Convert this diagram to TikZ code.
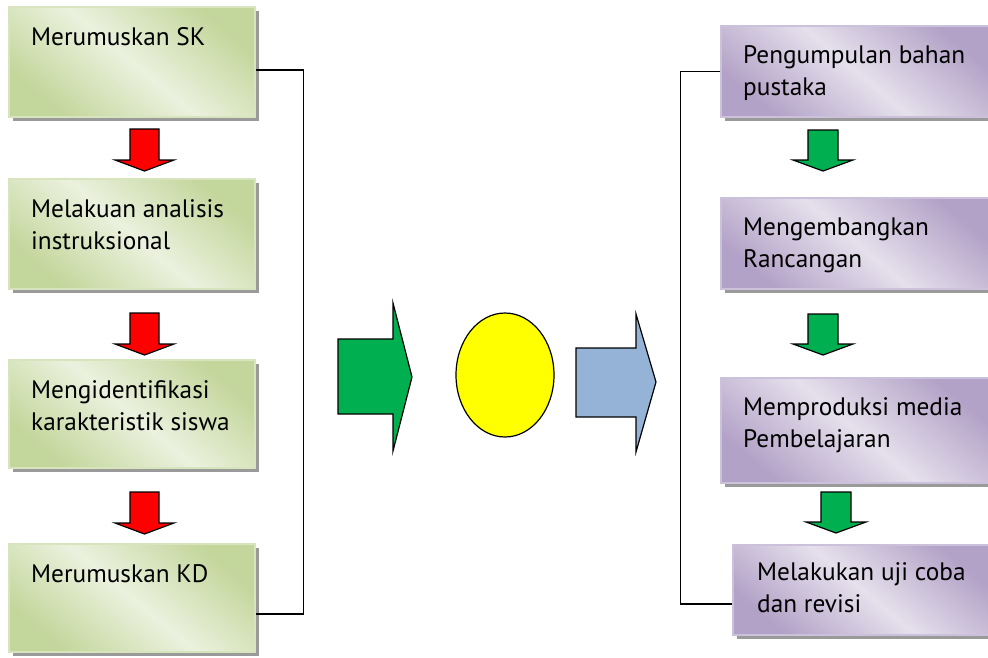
\documentclass[tikz,border=0pt]{standalone}
\usepackage{fontspec}
\setmainfont{PT Sans}
\usetikzlibrary{shapes.geometric}
\definecolor{gdark}{HTML}{C3D69B}
\definecolor{glight}{HTML}{EBF1DE}
\definecolor{gline}{HTML}{D7E4BD}
\definecolor{pdark}{HTML}{B3A2C7}
\definecolor{plight}{HTML}{E5E0EC}
\definecolor{pline}{HTML}{CCC1DA}
\definecolor{arrred}{HTML}{FF0000}
\definecolor{arrgreen}{HTML}{00B050}
\definecolor{arrblue}{HTML}{95B3D7}
\definecolor{ellyellow}{HTML}{FFFF00}
\definecolor{shadowgray}{HTML}{9A9A9A}
\tikzset{
  boxbase/.style={rectangle, inner sep=0pt, line width=1.2pt},
  greenbox/.style={boxbase, draw=gline,
    path picture={\shade[top color=gdark, bottom color=gdark, middle color=glight, shading angle=-40]
      (path picture bounding box.south west) rectangle (path picture bounding box.north east);}},
  purplebox/.style={boxbase, draw=pline,
    path picture={\shade[top color=pdark, bottom color=pdark, middle color=plight, shading angle=-40]
      (path picture bounding box.south west) rectangle (path picture bounding box.north east);}},
  boxshadow/.style={fill=shadowgray},
  txt/.style={inner sep=0pt, align=left, font=\fontsize{25.3}{32}\selectfont, text=black},
  blockarrow/.style={draw=black, line width=1.2pt, line join=miter},
  conn/.style={draw=black, line width=1.2pt}
}
\begin{document}
\begin{tikzpicture}[x=1pt,y=-1pt]
\useasboundingbox (0,0) rectangle (988,657);
% shadows
\foreach \cx/\cy/\w/\h in {132/62/246/110,132/234/246/110,132/414/246/108,132/598/246/108,856.5/71.5/271/91,856.5/243.5/271/91,856.5/430.5/271/105,862.5/590/259/90}{
  \fill[boxshadow] (\cx-\w/2+4,\cy-\h/2+4) rectangle (\cx+\w/2+4,\cy+\h/2+4);
}
% left boxes
\node[greenbox, minimum width=246pt, minimum height=110pt] (L1) at (132,62) {};
\node[greenbox, minimum width=246pt, minimum height=110pt] (L2) at (132,234) {};
\node[greenbox, minimum width=246pt, minimum height=108pt] (L3) at (132,414) {};
\node[greenbox, minimum width=246pt, minimum height=108pt] (L4) at (132,598) {};
\node[txt, anchor=base west] (tL1) at (31,45) {Merumuskan SK};
\node[txt, anchor=base west] (tL2) at (31,249) {Melakuan analisis\\instruksional};
\node[txt, anchor=base west] (tL3) at (31,430) {Mengidentifikasi\\karakteristik siswa};
\node[txt, anchor=base west] (tL4) at (31,582) {Merumuskan KD};
% right boxes
\node[purplebox, minimum width=271pt, minimum height=91pt] (R1) at (856.5,71.5) {};
\node[purplebox, minimum width=271pt, minimum height=91pt] (R2) at (856.5,243.5) {};
\node[purplebox, minimum width=271pt, minimum height=105pt] (R3) at (856.5,430.5) {};
\node[purplebox, minimum width=259pt, minimum height=90pt] (R4) at (862.5,590) {};
\node[txt, anchor=base west] (tR1) at (743,95) {Pengumpulan bahan\\pustaka};
\node[txt, anchor=base west] (tR2) at (743,267) {Mengembangkan\\Rancangan};
\node[txt, anchor=base west] (tR3) at (743,447) {Memproduksi media\\Pembelajaran};
\node[txt, anchor=base west] (tR4) at (757,612) {Melakukan uji coba\\dan revisi};
% red arrows
\foreach \t in {129,313,492}{
  \draw[blockarrow, fill=arrred] (130,\t) -- (159,\t) -- (159,\t+31) -- (174,\t+31) -- (144.5,\t+42) -- (115,\t+31) -- (130,\t+31) -- cycle;
}
% green arrows right
\foreach \t/\c in {130/823,314/823,492/836}{
  \draw[blockarrow, fill=arrgreen] (\c-15,\t) -- (\c+15,\t) -- (\c+15,\t+30) -- (\c+30,\t+30) -- (\c,\t+41) -- (\c-30,\t+30) -- (\c-15,\t+30) -- cycle;
}
% big arrows and ellipse
\draw[blockarrow, fill=arrgreen] (338,339) -- (393,339) -- (393,303) -- (412,377) -- (393,451) -- (393,414) -- (338,414) -- cycle;
\node[ellipse, draw=black, line width=1.2pt, fill=ellyellow, minimum width=98pt, minimum height=124pt, inner sep=0pt] (E) at (505,375) {};
\draw[blockarrow, fill=arrblue] (576,348) -- (636,348) -- (636,314) -- (656,382) -- (636,452) -- (636,417) -- (576,417) -- cycle;
% connectors
\draw[conn] ([yshift=-8pt]L1.east) -- ++(48,0) |- ([yshift=-16pt]L4.east);
\draw[conn] (R1.west) -- ++(-40,0) |- ([yshift=-14pt]R4.west);
\end{tikzpicture}
\end{document}
